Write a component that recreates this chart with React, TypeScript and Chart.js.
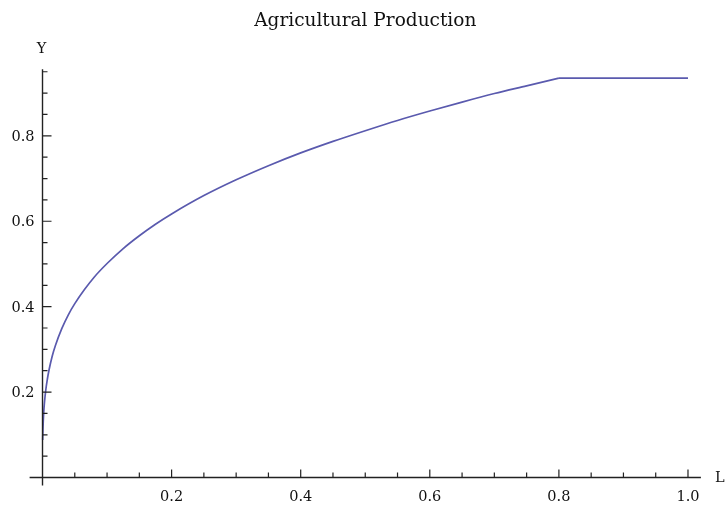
import React, { useEffect, useRef } from "react";
import { Chart, registerables } from "chart.js";

Chart.register(...registerables);

const chartTitle = "Agricultural Production";
const xAxisName = "L";
const yAxisName = "Y";

// Labor input L and agricultural output Y
const laborL = [
  0.0003, 0.0006, 0.001, 0.0015, 0.002, 0.003, 0.005, 0.0075, 0.01, 0.015, 0.02, 0.03, 0.04,
  0.05, 0.065, 0.08, 0.1, 0.125, 0.15, 0.175, 0.2, 0.25, 0.3, 0.35, 0.4, 0.45, 0.5, 0.55, 0.6,
  0.65, 0.7, 0.75, 0.8,
];
const outputY = [
  0.088, 0.108, 0.126, 0.142, 0.155, 0.175, 0.204, 0.230, 0.251, 0.284, 0.309, 0.349, 0.381,
  0.407, 0.440, 0.469, 0.501, 0.536, 0.566, 0.593, 0.617, 0.66, 0.697, 0.73, 0.76, 0.787, 0.812,
  0.836, 0.858, 0.879, 0.899, 0.917, 0.935,
];
// Plateau beyond the kink
const plateauL = [0.8, 1.0];
const plateauY = [0.935, 0.935];

const xMajorTicks = [0.2, 0.4, 0.6, 0.8, 1.0];
const xTickLabels = ["0.2", "0.4", "0.6", "0.8", "1.0"];
const xMinorTicks = [0.05, 0.1, 0.15, 0.25, 0.3, 0.35, 0.45, 0.5, 0.55, 0.65, 0.7, 0.75, 0.85, 0.9, 0.95];
const yMajorTicks = [0.2, 0.4, 0.6, 0.8];
const yTickLabels = ["0.2", "0.4", "0.6", "0.8"];
const yMinorTicks = [0.05, 0.1, 0.15, 0.25, 0.3, 0.35, 0.45, 0.5, 0.55, 0.65, 0.7, 0.75, 0.85, 0.9, 0.95];

const FONT = '"DejaVu Serif", serif';
const LINE_COLOR = "#5a5aae";

const axesPlugin = {
  id: "mathAxes",
  afterDraw(chart: any) {
    const ctx = chart.ctx;
    const xs = chart.scales.x;
    const ys = chart.scales.y;
    const area = chart.chartArea;
    const x0 = xs.getPixelForValue(0);
    const y0 = ys.getPixelForValue(0);
    ctx.save();
    ctx.strokeStyle = "#222";
    ctx.lineWidth = 1.4;
    ctx.beginPath();
    ctx.moveTo(area.left, y0);
    ctx.lineTo(area.right, y0);
    ctx.moveTo(x0, area.top);
    ctx.lineTo(x0, area.bottom);
    ctx.stroke();
    ctx.lineWidth = 1.2;
    ctx.beginPath();
    xMajorTicks.forEach((v) => {
      const px = xs.getPixelForValue(v);
      ctx.moveTo(px, y0);
      ctx.lineTo(px, y0 - 8);
    });
    xMinorTicks.forEach((v) => {
      const px = xs.getPixelForValue(v);
      ctx.moveTo(px, y0);
      ctx.lineTo(px, y0 - 5);
    });
    yMajorTicks.forEach((v) => {
      const py = ys.getPixelForValue(v);
      ctx.moveTo(x0, py);
      ctx.lineTo(x0 + 9, py);
    });
    yMinorTicks.forEach((v) => {
      const py = ys.getPixelForValue(v);
      ctx.moveTo(x0, py);
      ctx.lineTo(x0 + 5, py);
    });
    ctx.stroke();
    ctx.fillStyle = "#111";
    ctx.font = `14.5px ${FONT}`;
    ctx.textBaseline = "alphabetic";
    ctx.textAlign = "center";
    xMajorTicks.forEach((v, i) => {
      ctx.fillText(xTickLabels[i], xs.getPixelForValue(v), y0 + 24);
    });
    ctx.textAlign = "right";
    yMajorTicks.forEach((v, i) => {
      ctx.fillText(yTickLabels[i], x0 - 8, ys.getPixelForValue(v) + 5);
    });
    ctx.textAlign = "center";
    ctx.fillText(yAxisName, x0 - 1, area.top - 16);
    ctx.textAlign = "left";
    ctx.fillText(xAxisName, area.right + 14, y0 + 5);
    ctx.restore();
  },
};

export default function App() {
  const canvasRef = useRef<HTMLCanvasElement | null>(null);

  useEffect(() => {
    if (!canvasRef.current) return;
    const curve = laborL.map((l, i) => ({ x: l, y: outputY[i] }));
    const plateau = plateauL.map((l, i) => ({ x: l, y: plateauY[i] }));
    const chart = new Chart(canvasRef.current, {
      type: "scatter",
      data: {
        datasets: [
          {
            data: curve,
            showLine: true,
            borderColor: LINE_COLOR,
            borderWidth: 1.7,
            pointRadius: 0,
            fill: false,
            cubicInterpolationMode: "monotone",
          } as any,
          {
            data: plateau,
            showLine: true,
            borderColor: LINE_COLOR,
            borderWidth: 1.7,
            pointRadius: 0,
            fill: false,
            tension: 0,
          } as any,
        ],
      },
      options: {
        animation: false,
        responsive: true,
        maintainAspectRatio: false,
        layout: { padding: { left: 29.6, right: 25.1, top: 0, bottom: 20.4 } },
        plugins: {
          legend: { display: false },
          tooltip: { enabled: false },
          title: {
            display: true,
            text: chartTitle,
            color: "#111",
            font: { family: FONT, size: 18.5, weight: "normal" },
            padding: { top: 10, bottom: 37 },
          },
        },
        scales: {
          x: { type: "linear", min: -0.02, max: 1.02, display: false },
          y: { type: "linear", min: -0.019, max: 0.956, display: false },
        },
      },
      plugins: [axesPlugin],
    });
    return () => chart.destroy();
  }, []);

  return (
    <div style={{ position: "fixed", left: 0, top: 0, width: 726, height: 506, background: "#fff" }}>
      <canvas ref={canvasRef} />
    </div>
  );
}
